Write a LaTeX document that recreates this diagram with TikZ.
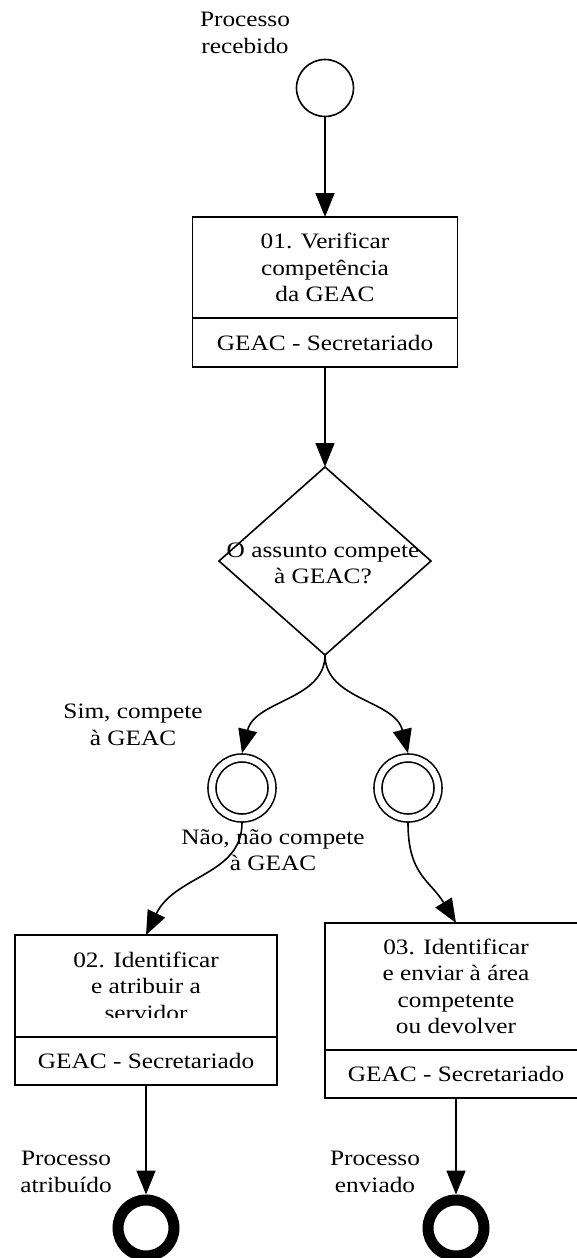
\documentclass[tikz,border=0pt]{standalone}
\usepackage{fontspec}
\setmainfont{Liberation Serif}[FakeStretch=1.15]
\usetikzlibrary{arrows.meta,shapes.geometric}
\begin{document}
\begin{tikzpicture}[x=1pt,y=-1pt,
  every node/.style={inner sep=0pt, outer sep=0pt},
  txt/.style={font=\fontsize{22}{26.5}\selectfont, align=center},
  actbox/.style={draw, line width=1.6pt, rectangle, txt},
  arr/.style={line width=1.6pt, -{Triangle[length=24pt,width=19pt]}},
  startev/.style={circle, draw, line width=1.6pt, minimum size=57pt, outer sep=0.8pt},
  midev/.style={circle, draw, line width=1.6pt, double, double distance=6.4pt, minimum size=60pt, outer sep=4.8pt},
  endev/.style={circle, draw, line width=11pt, minimum size=56pt, outer sep=5.5pt},
  gate/.style={diamond, draw, line width=1.6pt, minimum width=212pt, minimum height=188pt}]
\clip (0,0) rectangle (577,1258);
\fill[white] (0,0) rectangle (577,1258);

% start event
\node[startev] (start) at (325,88) {};
\node[txt] (lpr) at (245,33) {Processo\\recebido};

% task 01
\node[actbox, minimum width=265pt, minimum height=101pt] (b1) at (325,267.5) {01. Verificar\\competência\\da GEAC};
\node[actbox, minimum width=265pt, minimum height=49pt] (b1r) at (325,342.5) {GEAC - Secretariado};

% gateway
\node[gate] (d) at (325,561) {};
\node[txt] (dt) at (323,563.5) {O assunto compete\\à GEAC?};

% intermediate events
\node[midev] (gl) at (242,788) {};
\node[midev] (gr) at (408,788) {};
\node[txt] (lsim) at (133,725) {Sim, compete\\à GEAC};
\node[txt] (lnao) at (273,850) {Não, não compete\\à GEAC};

% task 02
\node[actbox, minimum width=262pt, minimum height=102pt] (b2) at (146,986) {};
\begin{scope}
  \clip (15,935) rectangle (277,1017);
  \node[txt] (b2t) at (146,986) {02. Identificar\\e atribuir a\\servidor};
\end{scope}
\node[actbox, minimum width=262pt, minimum height=48pt] (b2r) at (146,1061) {GEAC - Secretariado};

% task 03
\node[actbox, minimum width=262pt, minimum height=127pt] (b3) at (456,986.5) {03. Identificar\\e enviar à área\\competente\\ou devolver};
\node[actbox, minimum width=262pt, minimum height=48pt] (b3r) at (456,1074) {GEAC - Secretariado};

% end events
\node[endev] (e1) at (146,1228) {};
\node[endev] (e2) at (456,1228) {};
\node[txt] (lpa) at (66,1172) {Processo\\atribuído};
\node[txt] (lpe) at (375,1172) {Processo\\enviado};

% connectors
\draw[arr] (start.south) -- (b1.north);
\draw[arr] (b1r.south) -- (d.north);
\draw[arr] (d.south) .. controls (325,700) and (255,700) .. (gl.north);
\draw[arr] (d.south) .. controls (325,700) and (395,700) .. (gr.north);
\draw[arr] (gl.south) .. controls (242,875) and (175,875) .. (b2.north);
\draw[arr] (gr.south) .. controls (408,875) and (430,880) .. (b3.north);
\draw[arr] (b2r.south) -- (e1.north);
\draw[arr] (b3r.south) -- (e2.north);
\end{tikzpicture}
\end{document}
